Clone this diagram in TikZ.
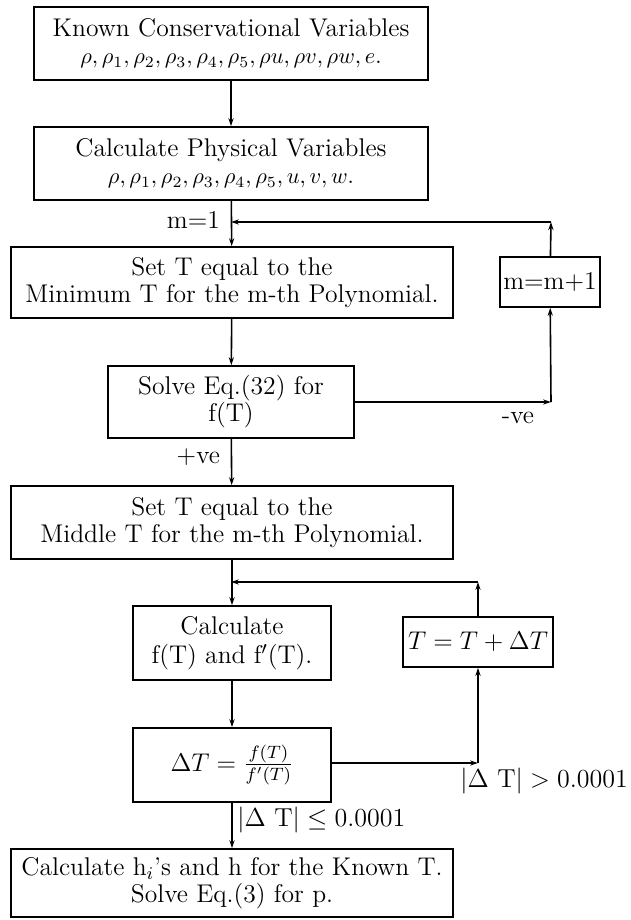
\RequirePackage{fix-cm}
\documentclass[tikz,border=0pt]{standalone}
\usepackage{amsmath}
\usetikzlibrary{arrows.meta}

\tikzset{
	box/.style = {draw, thick, align = center, inner sep = 0pt},
	arr/.style = {thick, -{Stealth[length=4pt, width=2.6pt]}},
	biglabel/.style = {font = \fontsize{13}{14}\selectfont, inner sep = 0pt},
}
\newcommand{\varline}[1]{{\fontsize{11.2}{12}\selectfont$#1$}}

\begin{document}
	\begin{tikzpicture}[x = 0.5pt, y = -0.5pt, font = \fontsize{12.8}{13.5}\selectfont]
		\useasboundingbox (0,0) rectangle (631,920);
		% main column
		\node[box, minimum width = 197pt, minimum height = 36.5pt] (known) at (231,43.5)
			{Known Conservational Variables\\ \varline{\rho, \rho_1, \rho_2, \rho_3, \rho_4, \rho_5, \rho u, \rho v, \rho w, e.}};
		\node[box, minimum width = 197pt, minimum height = 36.5pt] (phys) at (231,163.5)
			{Calculate Physical Variables\\ \varline{\rho, \rho_1, \rho_2, \rho_3, \rho_4, \rho_5, u, v, w.}};
		\node[box, minimum width = 221pt, minimum height = 35.5pt] (setmin) at (232,282.5)
			{Set T equal to the\\ Minimum T for the m-th Polynomial.};
		\node[box, minimum width = 123pt, minimum height = 36pt] (solve) at (231,402)
			{Solve Eq.(32) for\\ f(T)};
		\node[box, minimum width = 221pt, minimum height = 36.5pt] (setmid) at (232,522.5)
			{Set T equal to the\\ Middle T for the m-th Polynomial.};
		\node[box, minimum width = 99pt, minimum height = 37pt] (calc) at (232,643)
			{Calculate\\[1pt] f(T) and f$'$(T).};
		\node[box, minimum width = 99pt, minimum height = 37pt] (dT) at (232,765)
			{$\Delta T = \frac{f(T)}{f'(T)}$};
		\node[box, minimum width = 221pt, minimum height = 34pt] (hcalc) at (232,883)
			{Calculate h$_i$'s and h for the Known T.\\ Solve Eq.(3) for p.};
		% side boxes
		\node[box, minimum width = 50pt, minimum height = 25pt] (inc) at (550,282) {m=m+1};
		\node[box, minimum width = 75pt, minimum height = 25pt] (Tupd) at (478,642) {$T = T + \Delta T$};

		\coordinate (m1) at (231,222);
		\coordinate (j1) at (551,222);
		\coordinate (j2) at (551,402);
		\coordinate (m2) at (231,582);
		\coordinate (j4) at (478,582);
		\coordinate (j3) at (478,763);

		\draw[arr] (known) -- (phys);
		\draw[arr] (phys) -- (setmin);
		\draw[arr] (setmin) -- (solve);
		\draw[arr] (solve) -- (setmid);
		\draw[arr] (setmid) -- (calc);
		\draw[arr] (calc) -- (dT);
		\draw[arr] (dT) -- (hcalc);
		% loop over polynomials
		\draw[arr] (solve.east) -- (j2);
		\draw[arr] (j2) -- (inc);
		\draw[arr] (inc) -- (j1);
		\draw[arr] (j1) -- (m1);
		% Newton loop
		\draw[arr] (dT.east |- j3) -- (j3);
		\draw[arr] (j3) -- (Tupd);
		\draw[arr] (Tupd) -- (j4);
		\draw[arr] (j4) -- (m2);

		\node[left] (lm) at (227,220) {m=1};
		\node (lneg) at (518,418) {-ve};
		\node[left] (lpos) at (227,457) {+ve};
		\node[biglabel, right] (lgt) at (460,781) {$|\Delta\ \mathrm{T}| > 0.0001$};
		\node[biglabel, right] (lle) at (237,820) {$|\Delta\ \mathrm{T}| \le 0.0001$};
	\end{tikzpicture}
\end{document}
